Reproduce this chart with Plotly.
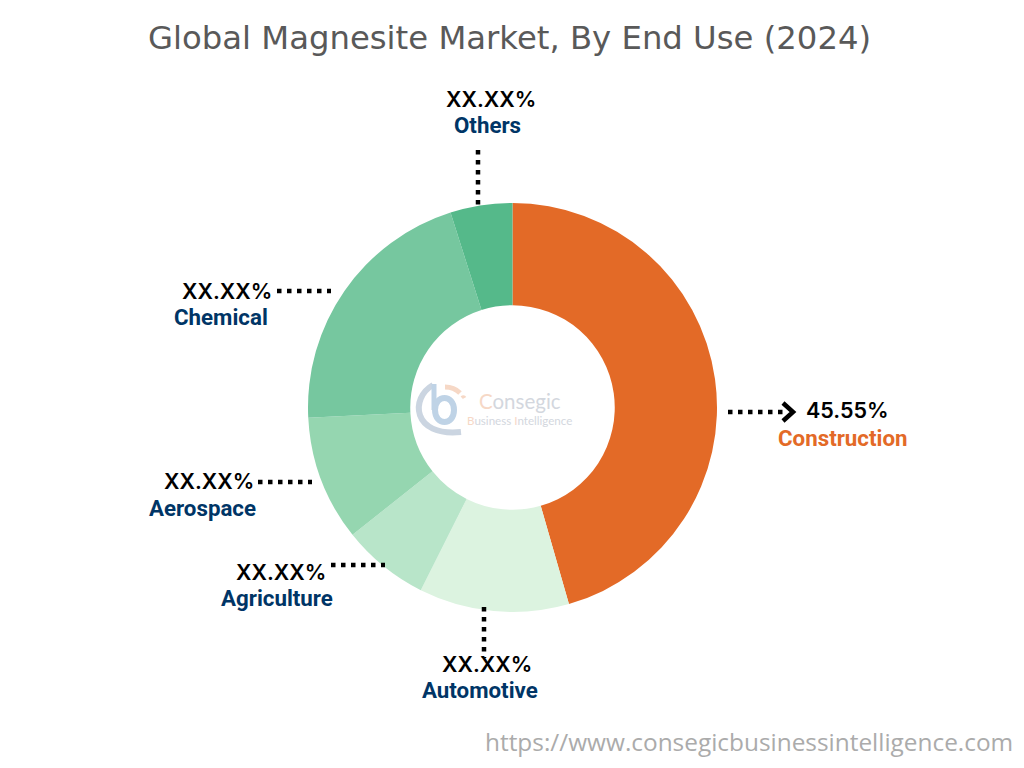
import plotly.graph_objects as go

W, H = 1024, 768
categories = ["Construction", "Automotive", "Agriculture", "Aerospace", "Chemical", "Others"]
values = [45.55, 11.85, 6.9, 9.9, 20.9, 4.9]
value_labels = ["45.55%", "XX.XX%", "XX.XX%", "XX.XX%", "XX.XX%", "XX.XX%"]
colors = ["#E36A27", "#DCF3E0", "#B8E5C9", "#95D6B0", "#76C79F", "#55B98A"]
label_colors = ["#E36A27", "#003566", "#003566", "#003566", "#003566", "#003566"]
title = "Global Magnesite Market, By End Use (2024)"
url = "https://www.consegicbusinessintelligence.com"

px = lambda x: x / W
py = lambda y: 1 - y / H

fig = go.Figure(go.Pie(
    labels=categories, values=values, sort=False, direction="clockwise", rotation=0,
    hole=0.5, marker=dict(colors=colors, line=dict(width=0)), textinfo="none",
    hoverinfo="label+percent", showlegend=False,
    domain=dict(x=[px(308), px(717)], y=[py(612), py(203)]),
))

# value label position, name label position (centre x, centre y)
value_pos = [(847, 410), (487, 664), (281, 572), (209, 481), (227, 291), (491, 99)]
name_pos = [(842, 438), (480, 690), (277, 598), (202, 508), (220.5, 317), (487.5, 125)]

ann = []
for v, n, vp, np_, c in zip(value_labels, categories, value_pos, name_pos, label_colors):
    ann.append(dict(text=v, x=px(vp[0]), y=py(vp[1]), xref="paper", yref="paper", showarrow=False,
                    xanchor="center", yanchor="middle",
                    font=dict(family="Inter", size=21.5, color="#000000", weight=600)))
    ann.append(dict(text=n, x=px(np_[0]), y=py(np_[1]), xref="paper", yref="paper", showarrow=False,
                    xanchor="center", yanchor="middle",
                    font=dict(family="Roboto", size=22.3, color=c, weight=700)))
ann.append(dict(text=title, x=px(509), y=py(38), xref="paper", yref="paper", showarrow=False,
                xanchor="center", yanchor="middle",
                font=dict(family="DejaVu Sans", size=32.3, color="#595959")))
ann.append(dict(text=url, x=px(749), y=py(741.5), xref="paper", yref="paper", showarrow=False,
                xanchor="center", yanchor="middle",
                font=dict(family="Open Sans", size=24.4, color="#ABABAB")))
ann.append(dict(text="<span style='color:#F6D8C6'>C</span>onsegic", x=px(519.5), y=py(400.5), xref="paper", yref="paper",
                showarrow=False, xanchor="center", yanchor="middle",
                font=dict(family="Lato", size=20.5, color="#D3D7DE")))
ann.append(dict(text="<span style='color:#F6D8C6'>B</span>usiness <span style='color:#F6D8C6'>I</span>ntelligence",
                x=px(519), y=py(420), xref="paper", yref="paper", showarrow=False,
                xanchor="center", yanchor="middle",
                font=dict(family="Lato", size=11.6, color="#D3D7DE")))

dots = dict(color="#000000", width=4.5, dash="4.5px,5.5px")
leaders = [((728, 412), (786, 412)), ((484, 607), (484, 658)), ((331, 565), (385, 565)),
           ((258, 482), (312, 482)), ((277, 291), (331, 291)), ((478, 150), (478, 205))]
shapes = [dict(type="line", xref="paper", yref="paper", x0=px(a[0]), y0=py(a[1]), x1=px(b[0]), y1=py(b[1]), line=dots)
          for a, b in leaders]


def path(pts, mode="L"):
    head = f"M{px(pts[0][0])},{py(pts[0][1])}"
    if mode == "L":
        return head + "".join(f" L{px(x)},{py(y)}" for x, y in pts[1:])
    return head + " C" + " ".join(f"{px(x)},{py(y)}" for x, y in pts[1:])


shapes.append(dict(type="path", xref="paper", yref="paper", path=path([(783, 403), (793, 412), (783, 421)]),
                   line=dict(color="#000000", width=4.5)))
# faint logo
logo = [
    ([(433, 385), (410, 398), (412, 437), (461, 432)], "#CBD5E1", 6),
    ([(434, 384), (434, 392), (434, 400), (434, 410)], "#BFD3E6", 5),
    ([(435, 410), (435, 394), (454, 394), (454, 410)], "#BFD3E6", 6),
    ([(435, 410), (435, 426), (454, 426), (454, 410)], "#BFD3E6", 6),
    ([(445, 387), (451, 387), (456, 389), (460, 393)], "#F6D8C6", 5),
    ([(462, 398), (463, 397), (464, 397), (464.5, 398)], "#F6D8C6", 4),
]
for pts, col, w in logo:
    shapes.append(dict(type="path", xref="paper", yref="paper", path=path(pts, "C"), line=dict(color=col, width=w)))

fig.update_layout(width=W, height=H, margin=dict(l=0, r=0, t=0, b=0), paper_bgcolor="#FFFFFF",
                  plot_bgcolor="#FFFFFF", annotations=ann, shapes=shapes)
fig.write_html("out.html", post_script="document.body.style.margin='0';", config=dict(displayModeBar=False))
